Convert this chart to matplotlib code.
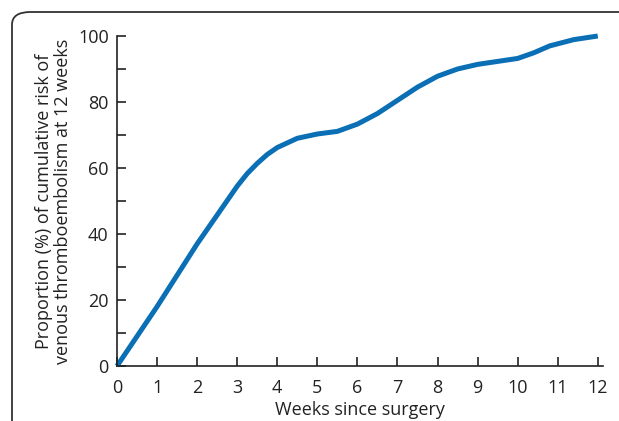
import numpy as np
import matplotlib
matplotlib.use("Agg")
import matplotlib.pyplot as plt
from matplotlib.patches import FancyBboxPatch
from matplotlib.ticker import MultipleLocator

# weeks since surgery and cumulative proportion (%)
weeks = [0, 1, 2, 3, 3.25, 3.5, 3.75, 4, 4.5, 5, 5.5, 6, 6.5, 7, 7.5,
         8, 8.5, 9, 9.5, 10, 10.4, 10.8, 11.4, 12]
proportion = [0, 18, 37, 54.5, 58.3, 61.4, 64.1, 66.2, 69, 70.3, 71.1, 73.3,
              76.5, 80.5, 84.5, 87.8, 90, 91.4, 92.3, 93.2, 94.9, 97, 98.9, 100]

x_ticks = list(range(0, 13))
y_ticks = [0, 20, 40, 60, 80, 100]

plt.rcParams["font.family"] = ["Open Sans", "DejaVu Sans"]

W, H = 619, 421
fig = plt.figure(figsize=(W / 100, H / 100), dpi=100)

# rounded frame around the panel (partly cut by the image edge)
frame = FancyBboxPatch((12 / W, -0.2), 1.2, (H - 12) / H + 0.2,
                       boxstyle="round,pad=0,rounding_size=0.03",
                       transform=fig.transFigure, fill=False,
                       edgecolor="#333333", linewidth=1.3)
fig.patches.append(frame)

ax = fig.add_axes([117 / W, 55 / H, (603 - 117) / W, (366 - 36) / H])
ax.plot(weeks, proportion, color="#0a6fb4", linewidth=3.6,
        solid_capstyle="butt", solid_joinstyle="round", clip_on=False)

ax.set_xlim(0, 12.13)
ax.set_ylim(0, 100)
ax.set_xticks(x_ticks)
ax.set_yticks(y_ticks)
ax.yaxis.set_minor_locator(MultipleLocator(10))

for side in ("top", "right"):
    ax.spines[side].set_visible(False)
for side in ("left", "bottom"):
    ax.spines[side].set_color("#222222")
    ax.spines[side].set_linewidth(1.2)

ax.tick_params(axis="both", which="both", direction="in", length=6.5,
               width=1.2, color="#222222", labelsize=13, labelcolor="#222222")
ax.tick_params(axis="y", pad=6)
ax.tick_params(axis="x", pad=9.5)

ax.set_xlabel("Weeks since surgery", fontsize=13, color="#222222", labelpad=3)
ax.set_ylabel("Proportion (%) of cumulative risk of\nvenous thromboembolism at 12 weeks",
              fontsize=13, color="#222222", labelpad=4, linespacing=1.1)

fig.savefig("out.png", dpi=100)
